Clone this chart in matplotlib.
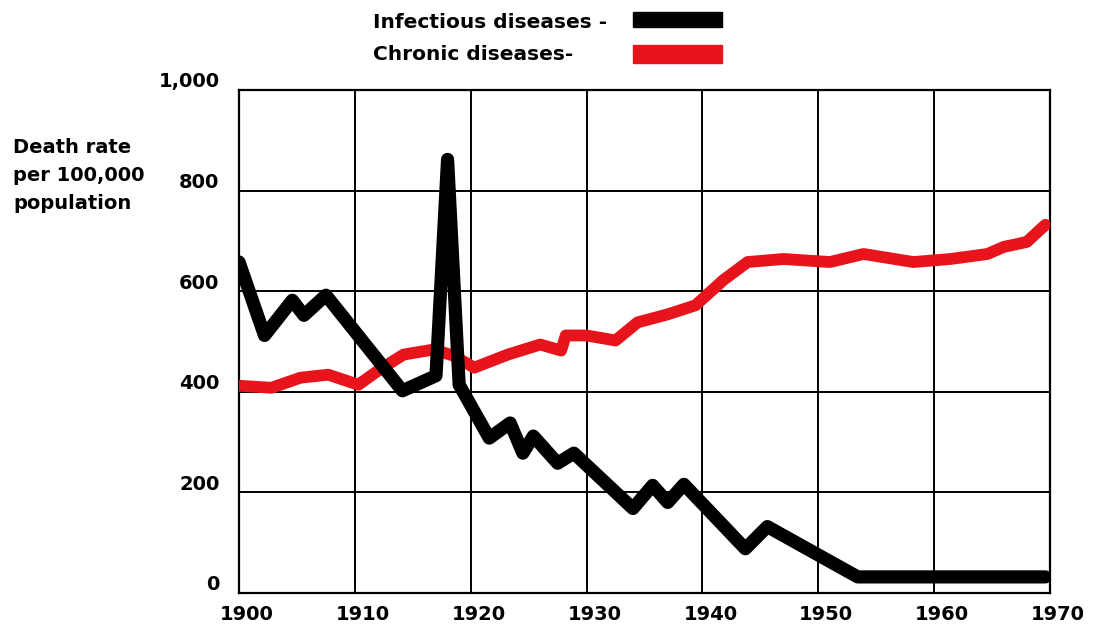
import matplotlib
matplotlib.use('Agg')
import matplotlib.pyplot as plt
import matplotlib.transforms as mtransforms
from matplotlib.patches import Rectangle

# 読み取った値 (年, 10万人あたり死亡率)
inf_years = [1900, 1902.2, 1904.6, 1905.6, 1907.5, 1914.1, 1917, 1918, 1919,
             1921.6, 1923.4, 1924.5, 1925.4, 1927.5, 1928.9, 1934, 1935.7,
             1937, 1938.4, 1943.7, 1945.6, 1953.4, 1969.6]
inf_rate = [658, 512, 582, 552, 592, 402, 432, 862, 414,
            308, 338, 278, 312, 258, 278, 168, 214,
            180, 216, 88, 132, 32, 32]

chr_years = [1900, 1902.8, 1905.3, 1907.7, 1910.3, 1912, 1914.2, 1916.8, 1918.5,
             1920.3, 1923.2, 1926, 1927.8, 1928.2, 1930, 1932.5, 1934.4, 1937,
             1939.4, 1941.8, 1943.9, 1947, 1951, 1953.9, 1958.2, 1961.4, 1964.6,
             1966, 1968, 1969.6]
chr_rate = [412, 408, 428, 434, 414, 442, 474, 484, 472,
            448, 474, 494, 482, 512, 512, 502, 538, 554,
            572, 622, 658, 664, 658, 674, 658, 664, 674,
            688, 698, 732]

x_ticks = [1900, 1910, 1920, 1930, 1940, 1950, 1960, 1970]
y_ticks = [0, 200, 400, 600, 800, 1000]
y_labels = ['0', '200', '400', '600', '800', '1,000']
ylabel_lines = ['Death rate', 'per 100,000', 'population']

RED = '#e8141c'
FONT = ['DejaVu Sans']

fig = plt.figure(figsize=(10.94, 6.25), dpi=100)
ax = fig.add_axes([0.2185, 0.0512, 0.7413, 0.8048])

ax.plot(chr_years, chr_rate, color=RED, lw=8.5, solid_capstyle='round',
        solid_joinstyle='round', zorder=3)
ax.plot(inf_years, inf_rate, color='black', lw=9.5, solid_capstyle='round',
        solid_joinstyle='round', zorder=4)

ax.set_xlim(1900, 1970)
ax.set_ylim(0, 1000)
ax.set_xticks(x_ticks)
ax.set_yticks(y_ticks)
ax.set_xticklabels([str(x) for x in x_ticks], family=FONT, fontsize=14, fontweight='bold')
ax.set_yticklabels(y_labels, family=FONT, fontsize=14, fontweight='bold')
ax.tick_params(axis='x', length=0, pad=9)
ax.tick_params(axis='y', length=0, pad=14)
ax.grid(True, color='black', lw=1.4)
ax.set_axisbelow(True)
for s in ax.spines.values():
    s.set_linewidth(1.6)

# 目盛ラベルの位置調整 (y は上へ, x は右へ)
up = mtransforms.ScaledTranslation(0, 10 / 100, fig.dpi_scale_trans)
for lbl in ax.get_yticklabels():
    lbl.set_transform(lbl.get_transform() + up)
right = mtransforms.ScaledTranslation(8 / 100, 0, fig.dpi_scale_trans)
for lbl in ax.get_xticklabels():
    lbl.set_transform(lbl.get_transform() + right)

for i, line in enumerate(ylabel_lines):
    fig.text(0.012, 0.7552 - i * 0.0448, line, family=FONT, fontsize=14,
             fontweight='bold', ha='left', va='baseline')

# 凡例
fig.text(0.341, 0.9648, 'Infectious diseases -', family=FONT, fontsize=14.5,
         fontweight='bold', ha='left', va='center')
fig.text(0.341, 0.912, 'Chronic diseases-', family=FONT, fontsize=14.5,
         fontweight='bold', ha='left', va='center')
fig.patches.append(Rectangle((0.5786, 0.9568), 0.0814, 0.024, color='black',
                             transform=fig.transFigure, figure=fig))
fig.patches.append(Rectangle((0.5786, 0.8992), 0.0814, 0.0288, color=RED,
                             transform=fig.transFigure, figure=fig))

fig.savefig('out.png', dpi=100)
